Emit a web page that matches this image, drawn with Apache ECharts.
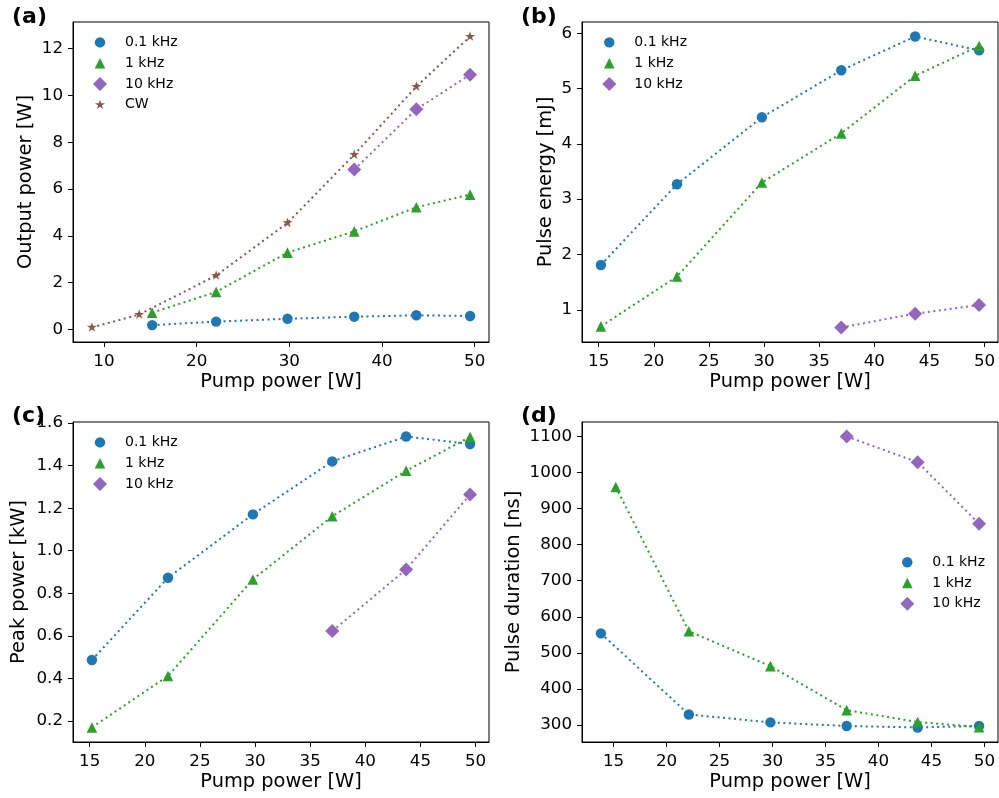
<!DOCTYPE html>
<html>
<head>
<meta charset="utf-8">
<script src="https://cdn.jsdelivr.net/npm/echarts@6/dist/echarts.min.js"></script>
<style>
  html, body { margin: 0; padding: 0; background: #fff; }
  #chart { width: 999px; height: 798px; }
</style>
</head>
<body>
<div id="chart"></div>
<script>
// Pump power [W] of each operating point
const pumpPulsed = [15.2, 22.1, 29.8, 37.0, 43.7, 49.5];
const pumpCW = [8.7, 13.8, 22.1, 29.8, 37.0, 43.7, 49.5];
const pump10k = [37.0, 43.7, 49.5];
const pumpDuration01k = [13.8, 22.1, 29.8, 37.0, 43.7, 49.5];

// (a) Output power [W]
const outPower01k = [0.18, 0.33, 0.45, 0.54, 0.60, 0.57];
const outPower1k = [0.71, 1.60, 3.28, 4.19, 5.22, 5.76];
const outPower10k = [6.83, 9.41, 10.89];
const outPowerCW = [0.08, 0.63, 2.30, 4.55, 7.47, 10.38, 12.52];

// (b) Pulse energy [mJ]
const energy01k = [1.81, 3.27, 4.48, 5.33, 5.94, 5.69];
const energy1k = [0.70, 1.60, 3.30, 4.19, 5.23, 5.77];
const energy10k = [0.68, 0.93, 1.085];

// (c) Peak power [kW]
const peak01k = [0.486, 0.873, 1.171, 1.420, 1.537, 1.502];
const peak1k = [0.169, 0.411, 0.865, 1.162, 1.376, 1.535];
const peak10k = [0.622, 0.912, 1.265];

// (d) Pulse duration [ns]
const duration01k = [554, 329, 307, 297, 293, 297];
const duration1k = [960, 560, 463, 341, 308, 294];
const duration10k = [1100, 1029, 858];

// Tick values
const ticksPumpWide = [10, 20, 30, 40, 50];
const ticksPump = [15, 20, 25, 30, 35, 40, 45, 50];
const ticksOutPower = [0, 2, 4, 6, 8, 10, 12];
const ticksEnergy = [1, 2, 3, 4, 5, 6];
const ticksPeak = [0.2, 0.4, 0.6, 0.8, 1.0, 1.2, 1.4, 1.6];
const ticksDuration = [300, 400, 500, 600, 700, 800, 900, 1000, 1100];

const seriesNames = ['0.1 kHz', '1 kHz', '10 kHz', 'CW'];
const panelLabels = ['(a)', '(b)', '(c)', '(d)'];

const FONT = "'DejaVu Sans', sans-serif";
const C_BLUE = '#1f77b4', C_GREEN = '#2ca02c', C_PURPLE = '#9467bd', C_BROWN = '#8c564b';

// Marker shapes, each padded into the same 14x14 box so one size fits all
const PAD = 'M-7,-7M7,7';
const SYM = {
  circle: 'path://' + PAD + 'M5.2,0A5.2,5.2,0,1,1,-5.2,0A5.2,5.2,0,1,1,5.2,0Z',
  triangle: 'path://' + PAD + 'M0,-5.3L5.3,5.3L-5.3,5.3Z',
  diamond: 'path://M0,-7L7,0L0,7L-7,0Z',
  star: 'path://' + PAD + 'M0,-5.3L1.19,-1.638L5.04,-1.638L1.926,0.625L3.115,4.288L0,2.025L-3.115,4.288L-1.926,0.625L-5.04,-1.638L-1.19,-1.638Z'
};

// Autoscale with 5% margins on both ends
function padRange(arrays) {
  const all = [].concat(...arrays);
  const lo = Math.min(...all), hi = Math.max(...all);
  const m = (hi - lo) * 0.05;
  return [lo - m, hi + m];
}

const grids = [
  { left: 73, top: 22, width: 416, height: 320 },
  { left: 582, top: 22, width: 416, height: 320 },
  { left: 73, top: 422, width: 416, height: 320 },
  { left: 582, top: 422, width: 416, height: 320 }
].map(g => Object.assign(g, {
  containLabel: false, show: true, borderColor: '#000', borderWidth: 1, backgroundColor: 'transparent'
}));

function axisCommon(ticks, fmt) {
  return {
    type: 'value',
    nameLocation: 'middle',
    nameTextStyle: { fontSize: 19.4, color: '#000', fontFamily: FONT },
    axisLine: { show: true, onZero: false, lineStyle: { color: '#000', width: 1 } },
    axisTick: { show: true, inside: false, length: 5, lineStyle: { color: '#000', width: 1 }, customValues: ticks },
    axisLabel: { show: true, customValues: ticks, fontSize: 16.7, color: '#000', fontFamily: FONT, formatter: fmt },
    splitLine: { show: false }
  };
}

function xAxis(idx, range, ticks) {
  const a = axisCommon(ticks, v => String(v));
  return Object.assign(a, {
    gridIndex: idx, min: range[0], max: range[1],
    name: 'Pump power [W]', nameGap: 30,
    axisLabel: Object.assign(a.axisLabel, { margin: 11 })
  });
}

function yAxis(idx, range, ticks, name, gap, fmt) {
  const a = axisCommon(ticks, fmt || (v => String(v)));
  return Object.assign(a, {
    gridIndex: idx, min: range[0], max: range[1],
    name: name, nameGap: gap,
    axisLabel: Object.assign(a.axisLabel, { margin: 10 })
  });
}

function line(idx, name, xs, ys, color, symbol) {
  return {
    type: 'line', name: name, xAxisIndex: idx, yAxisIndex: idx,
    data: xs.map((x, i) => [x, ys[i]]),
    symbol: symbol, symbolSize: 14, symbolKeepAspect: true, showAllSymbol: true,
    itemStyle: { color: color },
    lineStyle: { color: color, width: 2, type: [2, 3.5] },
    emphasis: { disabled: true }, silent: true, animation: false
  };
}

const legendIcons = [SYM.circle, SYM.triangle, SYM.diamond, SYM.star];
function legend(left, top, count) {
  return {
    orient: 'vertical', left: left, top: top, padding: 0,
    itemWidth: 40, itemHeight: 14, itemGap: 6.8,
    selectedMode: false,
    textStyle: { fontSize: 14, color: '#000', fontFamily: FONT },
    data: seriesNames.slice(0, count).map((n, i) => ({ name: n, icon: legendIcons[i] }))
  };
}

const series = [
  // (a)
  line(0, seriesNames[0], pumpPulsed, outPower01k, C_BLUE, SYM.circle),
  line(0, seriesNames[1], pumpPulsed, outPower1k, C_GREEN, SYM.triangle),
  line(0, seriesNames[2], pump10k, outPower10k, C_PURPLE, SYM.diamond),
  line(0, seriesNames[3], pumpCW, outPowerCW, C_BROWN, SYM.star),
  // (b)
  line(1, seriesNames[0], pumpPulsed, energy01k, C_BLUE, SYM.circle),
  line(1, seriesNames[1], pumpPulsed, energy1k, C_GREEN, SYM.triangle),
  line(1, seriesNames[2], pump10k, energy10k, C_PURPLE, SYM.diamond),
  // (c)
  line(2, seriesNames[0], pumpPulsed, peak01k, C_BLUE, SYM.circle),
  line(2, seriesNames[1], pumpPulsed, peak1k, C_GREEN, SYM.triangle),
  line(2, seriesNames[2], pump10k, peak10k, C_PURPLE, SYM.diamond),
  // (d)
  line(3, seriesNames[0], pumpDuration01k, duration01k, C_BLUE, SYM.circle),
  line(3, seriesNames[1], pumpPulsed, duration1k, C_GREEN, SYM.triangle),
  line(3, seriesNames[2], pump10k, duration10k, C_PURPLE, SYM.diamond)
];

const option = {
  animation: false,
  backgroundColor: '#fff',
  grid: grids,
  xAxis: [
    xAxis(0, padRange([pumpPulsed, pumpCW]), ticksPumpWide),
    xAxis(1, padRange([pumpPulsed, pump10k]), ticksPump),
    xAxis(2, padRange([pumpPulsed, pump10k]), ticksPump),
    xAxis(3, padRange([pumpPulsed, pumpDuration01k, pump10k]), ticksPump)
  ],
  yAxis: [
    yAxis(0, padRange([outPower01k, outPower1k, outPower10k, outPowerCW]), ticksOutPower, 'Output power [W]', 38),
    yAxis(1, padRange([energy01k, energy1k, energy10k]), ticksEnergy, 'Pulse energy [mJ]', 27),
    yAxis(2, padRange([peak01k, peak1k, peak10k]), ticksPeak, 'Peak power [kW]', 45, v => v.toFixed(1)),
    yAxis(3, padRange([duration01k, duration1k, duration10k]), ticksDuration, 'Pulse duration [ns]', 59)
  ],
  legend: [
    legend(93, 35.4, 4),
    legend(602.3, 35.4, 3),
    legend(93, 435.4, 3),
    legend(900.3, 555.2, 3)
  ],
  graphic: [
    { left: 12, top: 6 }, { left: 521, top: 6 }, { left: 12, top: 405 }, { left: 521, top: 405 }
  ].map((p, i) => ({
    type: 'text', left: p.left, top: p.top, z: 100,
    style: { text: panelLabels[i], font: 'bold 22px ' + FONT, fill: '#000' }
  })),
  series: series
};

const chart = echarts.init(document.getElementById('chart'), null, { renderer: 'canvas' });
chart.setOption(option);
</script>
</body>
</html>
